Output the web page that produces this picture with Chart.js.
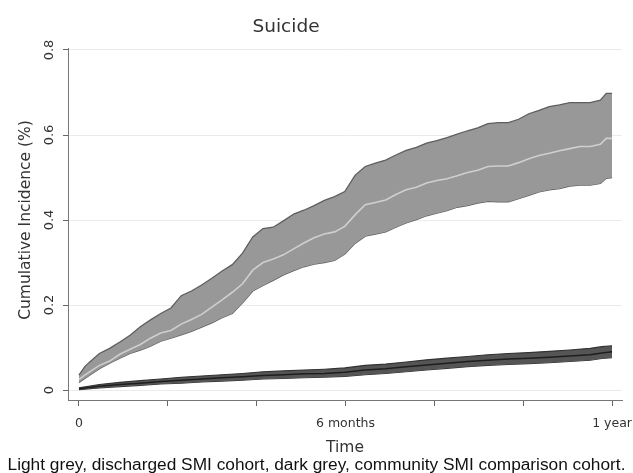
<!DOCTYPE html>
<html>
<head>
<meta charset="utf-8">
<script src="https://cdn.jsdelivr.net/npm/chart.js@4.4.0/dist/chart.umd.min.js"></script>
<style>
  html, body { margin: 0; padding: 0; background: #fff; }
  #wrap { position: relative; width: 633px; height: 473px; }
</style>
</head>
<body>
<div id="wrap"><canvas id="chart" width="633" height="473"></canvas></div>
<script>
// days since discharge (0 .. 1 year)
const lightDays = [0, 4, 7, 14, 21, 28, 35, 42, 49, 56, 63, 70, 77, 84, 91, 98, 105, 112, 119, 126, 133, 140, 147, 154, 161, 168, 175, 182, 189, 196, 203, 210, 217, 224, 231, 238, 245, 252, 259, 266, 273, 280, 287, 294, 301, 308, 315, 322, 329, 336, 343, 350, 357, 361, 365];
const lightMean = [0.025, 0.035, 0.042, 0.058, 0.068, 0.084, 0.096, 0.107, 0.122, 0.134, 0.14, 0.155, 0.166, 0.178, 0.195, 0.212, 0.23, 0.25, 0.282, 0.3, 0.308, 0.318, 0.332, 0.346, 0.358, 0.367, 0.372, 0.385, 0.412, 0.436, 0.441, 0.447, 0.46, 0.471, 0.477, 0.487, 0.493, 0.497, 0.504, 0.512, 0.517, 0.526, 0.527, 0.527, 0.535, 0.544, 0.552, 0.557, 0.563, 0.568, 0.573, 0.573, 0.578, 0.592, 0.592];
const lightUpper = [0.035, 0.055, 0.065, 0.086, 0.098, 0.113, 0.129, 0.149, 0.165, 0.18, 0.193, 0.222, 0.233, 0.247, 0.263, 0.28, 0.295, 0.322, 0.36, 0.38, 0.383, 0.398, 0.414, 0.423, 0.434, 0.446, 0.455, 0.467, 0.505, 0.526, 0.534, 0.541, 0.553, 0.564, 0.571, 0.581, 0.587, 0.594, 0.602, 0.61, 0.617, 0.627, 0.629, 0.629, 0.637, 0.65, 0.658, 0.667, 0.671, 0.676, 0.676, 0.676, 0.682, 0.698, 0.698];
const lightLower = [0.018, 0.027, 0.034, 0.05, 0.063, 0.075, 0.086, 0.094, 0.103, 0.115, 0.122, 0.13, 0.138, 0.148, 0.158, 0.17, 0.18, 0.205, 0.233, 0.246, 0.258, 0.271, 0.281, 0.29, 0.296, 0.3, 0.305, 0.32, 0.345, 0.362, 0.367, 0.372, 0.383, 0.393, 0.401, 0.41, 0.416, 0.422, 0.43, 0.434, 0.44, 0.444, 0.443, 0.443, 0.45, 0.458, 0.466, 0.471, 0.474, 0.48, 0.482, 0.482, 0.486, 0.498, 0.5];

const darkDays = [0, 14, 28, 42, 56, 70, 84, 98, 112, 126, 140, 154, 168, 182, 196, 210, 224, 238, 252, 266, 280, 294, 308, 322, 336, 350, 358, 365];
const darkMean = [0.003, 0.009, 0.013, 0.016, 0.02, 0.023, 0.026, 0.029, 0.031, 0.034, 0.036, 0.038, 0.039, 0.042, 0.047, 0.05, 0.055, 0.059, 0.063, 0.067, 0.07, 0.073, 0.075, 0.077, 0.08, 0.083, 0.087, 0.09];
const darkUpper = [0.005, 0.013, 0.018, 0.022, 0.026, 0.03, 0.033, 0.036, 0.039, 0.043, 0.045, 0.047, 0.049, 0.052, 0.058, 0.061, 0.066, 0.071, 0.075, 0.079, 0.083, 0.086, 0.088, 0.091, 0.094, 0.098, 0.102, 0.104];
const darkLower = [0.001, 0.005, 0.008, 0.011, 0.014, 0.016, 0.019, 0.021, 0.023, 0.026, 0.027, 0.029, 0.03, 0.032, 0.036, 0.039, 0.043, 0.047, 0.051, 0.055, 0.058, 0.06, 0.062, 0.064, 0.067, 0.07, 0.074, 0.076];

const yTicks = [0, 0.2, 0.4, 0.6, 0.8];
const yTickLabels = ['0', '0.2', '0.4', '0.6', '0.8'];
const xTicks = [0, 60.8, 121.7, 182.5, 243.3, 304.2, 365];
const xTickLabels = ['0', '', '', '6 months', '', '', '1 year'];

const titleText = 'Suicide';
const xTitle = 'Time';
const yTitle = 'Cumulative Incidence (%)';
const caption = 'Light grey, discharged SMI cohort, dark grey, community SMI comparison cohort.';

const pts = (days, vals) => days.map((d, i) => ({ x: d, y: vals[i] }));

const FONT = '"DejaVu Sans", sans-serif';

// text that Chart.js can't place the way Stata does (rotated y ticks etc.)
const texts = {
  id: 'texts',
  afterDraw(chart) {
    const { ctx, scales } = chart;
    ctx.save();
    ctx.fillStyle = '#333';
    ctx.textAlign = 'center';
    ctx.textBaseline = 'alphabetic';

    ctx.font = '18.5px ' + FONT;
    ctx.fillText(titleText, 286, 32);

    ctx.font = '13px ' + FONT;
    yTicks.forEach((v, i) => {
      const y = scales.y.getPixelForValue(v);
      ctx.save();
      ctx.translate(53, y);
      ctx.rotate(-Math.PI / 2);
      ctx.fillText(yTickLabels[i], 0, 0);
      ctx.restore();
    });

    ctx.font = '12.5px ' + FONT;
    xTicks.forEach((v, i) => {
      if (!xTickLabels[i]) return;
      ctx.fillText(xTickLabels[i], scales.x.getPixelForValue(v), 427);
    });

    ctx.font = '15.5px ' + FONT;
    ctx.fillText(xTitle, (chart.chartArea.left + chart.chartArea.right) / 2, 452);

    ctx.save();
    ctx.translate(30, (scales.y.getPixelForValue(0) + scales.y.getPixelForValue(0.8)) / 2);
    ctx.rotate(-Math.PI / 2);
    ctx.fillText(yTitle, 0, 0);
    ctx.restore();

    ctx.fillStyle = '#111';
    ctx.font = '17.3px "Liberation Sans", Arial, sans-serif';
    ctx.fillText(caption, 316.5, 470);
    ctx.restore();
  }
};

const line = (data, color, width, order, fill, bg) => ({
  data,
  borderColor: color,
  borderWidth: width,
  backgroundColor: bg || 'transparent',
  fill: fill || false,
  pointRadius: 0,
  tension: 0,
  order
});

new Chart(document.getElementById('chart'), {
  type: 'line',
  data: {
    datasets: [
      line(pts(lightDays, lightMean), '#cfcfcf', 1.6, 0),
      line(pts(darkDays, darkMean), '#1e1e1e', 1.5, 0),
      line(pts(lightDays, lightUpper), '#5e5e5e', 1.3, 2, '+1', '#989898'),
      line(pts(lightDays, lightLower), '#5e5e5e', 1.3, 2),
      line(pts(darkDays, darkUpper), '#333333', 1.1, 1, '+1', '#555555'),
      line(pts(darkDays, darkLower), '#333333', 1.1, 1)
    ]
  },
  options: {
    responsive: false,
    devicePixelRatio: 1,
    animation: false,
    layout: { padding: { top: 48, right: 11, bottom: 0, left: 0 } },
    plugins: { legend: { display: false }, tooltip: { enabled: false }, title: { display: false } },
    scales: {
      x: {
        type: 'linear',
        min: -7.5,
        max: 371.8,
        afterBuildTicks: s => { s.ticks = xTicks.map(v => ({ value: v })); },
        afterFit: s => { s.height = 73; },
        ticks: { display: false },
        grid: { drawOnChartArea: false, drawTicks: true, tickLength: 6, tickColor: '#666', tickWidth: 1 },
        border: { color: '#777', width: 1 }
      },
      y: {
        min: -0.0235,
        max: 0.8047,
        afterBuildTicks: s => { s.ticks = yTicks.map(v => ({ value: v })); },
        afterFit: s => { s.width = 68; },
        ticks: { display: false },
        grid: { color: '#ebebeb', lineWidth: 1, drawTicks: true, tickLength: 5, tickColor: '#666' },
        border: { color: '#777', width: 1 }
      }
    }
  },
  plugins: [texts]
});
</script>
</body>
</html>
